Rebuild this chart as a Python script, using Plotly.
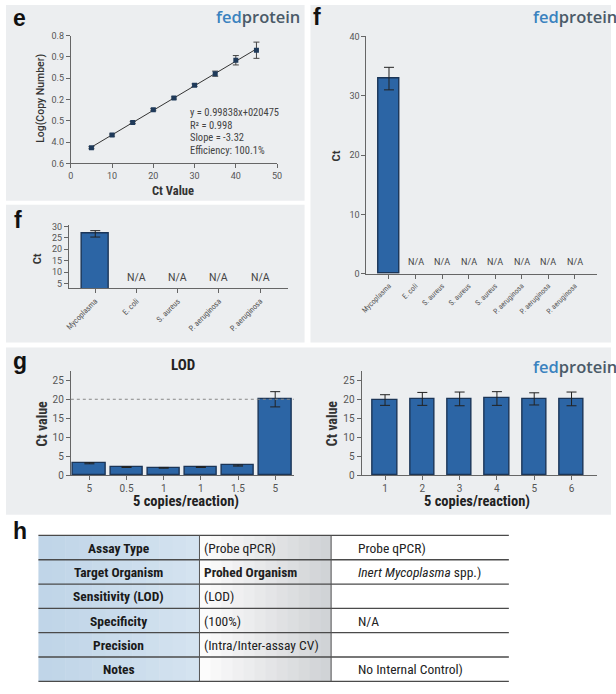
import numpy as np
import plotly.graph_objects as go

W, H = 616, 694

# e: standard curve
ct_values = [5, 10, 15, 20, 25, 30, 35, 40, 45]
log_copies = [0.74, 1.33, 1.92, 2.52, 3.07, 3.67, 4.21, 4.84, 5.31]
log_err = [0.05, 0.05, 0.05, 0.05, 0.05, 0.06, 0.12, 0.22, 0.38]
e_ytick_text = ["0.6", "4.0", "0.5", "0.2", "0.5", "0.9", "0.8"]
e_fit_text = ["y = 0.99838x+020475", "R\u00b2 = 0.998", "Slope = -3.32", "Efficiency: 100.1%"]

# f (small): specificity
spec_small_labels = ["Mycoplasma", "E. coli", "S. aureus", "P. aeruginosa", "P. aeruginosa"]
spec_small_ct = [26.8, None, None, None, None]
spec_small_err = [1.4, None, None, None, None]

# f (large): specificity
spec_labels = ["Mycoplasma", "E. coli", "S. aureus", "S. aureus", "S. aureus",
               "P. aeruginosa", "P. aeruginosa", "P. aeruginosa"]
spec_ct = [32.9, None, None, None, None, None, None, None]
spec_err = [1.9, None, None, None, None, None, None, None]

# g: LOD and repeatability
lod_labels = ["5", "0.5", "1", "1", "1.5", "5"]
lod_ct = [3.2, 2.2, 2.0, 2.2, 2.6, 20.0]
lod_err = [0.15, 0.12, 0.1, 0.12, 0.15, 2.0]
lod_threshold = 20
rep_labels = ["1", "2", "3", "4", "5", "6"]
rep_ct = [19.8, 20.1, 20.1, 20.2, 20.1, 20.1]
rep_err = [1.4, 1.7, 1.8, 1.8, 1.6, 1.8]

# h: summary table
table_params = ["Assay Type", "Target Organism", "Sensitivity (LOD)", "Specificity", "Precision", "Notes"]
table_col2 = ["(Probe qPCR)", "<b>Prohed Organism</b>", "(LOD)", "(100%)", "(Intra/Inter-assay CV)", ""]
table_col3 = ["Probe qPCR)", "<i>Inert Mycoplasma</i> spp.)", "", "N/A", "", "No Internal Control)"]

BAR = "#2c65a5"
BAR_LINE = "#1b3557"
PANEL = "#eceef0"
TXT = "#333333"
BASE_FONT = "Roboto, Liberation Sans, sans-serif"
COND_FONT = "Roboto Condensed, Liberation Sans Narrow, DejaVu Sans Condensed, Roboto, sans-serif"


def fx(px):
    return px / W


def fy(py):
    return 1 - py / H


fig = go.Figure()

# e scatter + fit line
slope, icpt = np.polyfit(ct_values, log_copies, 1)
fit_x = [min(ct_values), max(ct_values)]
fig.add_trace(go.Scatter(x=fit_x, y=[slope * v + icpt for v in fit_x], mode="lines",
                         line=dict(color="#333", width=1), xaxis="x", yaxis="y"))
fig.add_trace(go.Scatter(x=ct_values, y=log_copies, mode="markers",
                         marker=dict(symbol="square", size=5, color="#1f3a5a"),
                         error_y=dict(type="data", array=log_err, color="#444", thickness=1, width=3),
                         xaxis="x", yaxis="y"))


def bars(labels, vals, errs, width, xa, ya):
    fig.add_trace(go.Bar(x=list(range(len(labels))), y=vals, width=width,
                         marker=dict(color=BAR, line=dict(color=BAR_LINE, width=1.4)),
                         error_y=dict(type="data", array=errs, color="#222", thickness=1, width=5),
                         xaxis=xa, yaxis=ya))


bars(spec_small_labels, spec_small_ct, spec_small_err, 0.64, "x2", "y2")
bars(spec_labels, spec_ct, spec_err, 0.81, "x3", "y3")
bars(lod_labels, lod_ct, lod_err, 0.87, "x4", "y4")
bars(rep_labels, rep_ct, rep_err, 0.65, "x5", "y5")

ax = dict(showline=True, linecolor="#666", linewidth=1, ticks="outside", ticklen=4,
          tickcolor="#666", showgrid=False, zeroline=False,
          tickfont=dict(size=9, color="#555", family=BASE_FONT))

layout = dict(
    width=W, height=H, margin=dict(l=0, r=0, t=0, b=0),
    paper_bgcolor="white", plot_bgcolor="rgba(0,0,0,0)", showlegend=False,
    bargap=0,
    xaxis=dict(ax, domain=[fx(66), fx(276)], range=[0, 50], tickvals=list(range(0, 51, 10)), anchor="y"),
    yaxis=dict(ax, domain=[fy(161), fy(31)], range=[0, 6], tickvals=list(range(7)),
               ticktext=e_ytick_text, anchor="x"),
    xaxis2=dict(ax, domain=[fx(64), fx(287)], range=[-0.64, 4.67],
                tickvals=list(range(len(spec_small_labels))), ticktext=spec_small_labels,
                tickangle=-45, anchor="y2", tickfont=dict(size=8, color="#555", family=COND_FONT)),
    yaxis2=dict(ax, domain=[fy(288), fy(224)], range=[2.8, 30.5], tickvals=list(range(5, 31, 5)),
                anchor="x2"),
    xaxis3=dict(ax, domain=[fx(367), fx(602)], range=[-0.85, 7.85],
                tickvals=list(range(len(spec_labels))), ticktext=spec_labels,
                tickangle=-45, anchor="y3", tickfont=dict(size=7.5, color="#555", family=COND_FONT)),
    yaxis3=dict(ax, domain=[fy(273), fy(32)], range=[0, 40], tickvals=list(range(0, 41, 10)),
                anchor="x3"),
    xaxis4=dict(ax, domain=[fx(66), fx(293)], range=[-0.5, 5.5],
                tickvals=list(range(len(lod_labels))), ticktext=lod_labels, anchor="y4",
                tickfont=dict(size=10, color="#555", family=BASE_FONT)),
    yaxis4=dict(ax, domain=[fy(478), fy(372)], range=[0, 27.4], tickvals=list(range(0, 26, 5)),
                anchor="x4", tickfont=dict(size=10, color="#555", family=BASE_FONT)),
    xaxis5=dict(ax, domain=[fx(362), fx(602)], range=[-0.63, 5.69],
                tickvals=list(range(len(rep_labels))), ticktext=rep_labels, anchor="y5",
                tickfont=dict(size=10, color="#555", family=BASE_FONT)),
    yaxis5=dict(ax, domain=[fy(478), fy(372)], range=[0, 27.4], tickvals=list(range(0, 26, 5)),
                anchor="x5", tickfont=dict(size=10, color="#555", family=BASE_FONT)),
)
fig.update_layout(**layout)

shapes = []
# gray panels
for x0, y0, x1, y1 in [(0, 0, 304, 199), (0, 203, 304, 343), (310, 0, 616, 343), (0, 348, 616, 518)]:
    shapes.append(dict(type="rect", xref="paper", yref="paper", x0=fx(x0), x1=fx(x1),
                       y0=fy(y1), y1=fy(y0), fillcolor=PANEL, line=dict(width=0), layer="below"))

# LOD threshold
shapes.append(dict(type="line", xref="x4 domain", yref="y4", x0=0, x1=1, y0=lod_threshold,
                   y1=lod_threshold, line=dict(color="#888", width=1, dash="dot")))

# table
col_x = [33, 197, 331, 512]
row_h = 24.7
top = 539
n_rows = len(table_params)
strips = 12
for c, (ca, cb) in enumerate([((192, 213, 232), (212, 227, 240)), ((252, 252, 252), (208, 211, 214))]):
    xa, xb = col_x[c], col_x[c + 1]
    for s in range(strips):
        t = s / (strips - 1)
        col = "rgb(%d,%d,%d)" % tuple(int(ca[k] + (cb[k] - ca[k]) * t) for k in range(3))
        shapes.append(dict(type="rect", xref="paper", yref="paper",
                           x0=fx(xa + (xb - xa) * s / strips), x1=fx(xa + (xb - xa) * (s + 1) / strips + 0.5),
                           y0=fy(top + n_rows * row_h), y1=fy(top), fillcolor=col,
                           line=dict(width=0), layer="below"))
for r in range(n_rows + 1):
    yy = top + r * row_h
    shapes.append(dict(type="line", xref="paper", yref="paper", x0=fx(col_x[0]), x1=fx(col_x[-1]),
                       y0=fy(yy), y1=fy(yy), line=dict(color="#4a4a4a", width=1.3)))
for xx in col_x[1:3]:
    shapes.append(dict(type="line", xref="paper", yref="paper", x0=fx(xx), x1=fx(xx),
                       y0=fy(top + n_rows * row_h), y1=fy(top), line=dict(color="#555", width=1)))

ann = []


def text(x, y, s, size=10, color=TXT, xanchor="center", family=BASE_FONT, angle=0, weight=None):
    f = dict(size=size, color=color, family=family)
    if weight:
        f["weight"] = weight
    ann.append(dict(x=fx(x), y=fy(y), xref="paper", yref="paper", text=s, showarrow=False,
                    xanchor=xanchor, yanchor="middle", font=f, textangle=angle))


LOGO = "<span style='color:#3a82bf'>fed</span><span style='color:#4a5a68'>protein</span>"
for lx, ly in [(212, 12), (535, 12), (535, 367)]:
    text(lx, ly, LOGO, size=16.5, xanchor="left", family="Open Sans, sans-serif", weight=600)

for s, lx, ly in [("e", 5, 13), ("f", 6, 218), ("f", 311, 12), ("g", 5, 362), ("h", 5, 534)]:
    text(lx, ly, "<b>" + s + "</b>", size=23, color="#111", xanchor="left", family="Liberation Sans, Arial")

# e labels
text(35, 95, "Log(Copy Number)", size=10.5, angle=-90, weight=500)
text(170, 188, "<b>Ct Value</b>", size=12.5, family=COND_FONT)
for i, s in enumerate(e_fit_text):
    text(185, 109 + i * 13, s, size=10.5, color="#444", xanchor="left", family=COND_FONT)

# f labels
text(32, 258, "<b>Ct</b>", size=11, angle=-90)
text(337, 153, "<b>Ct</b>", size=11, angle=-90)
for i, v in enumerate(spec_small_ct):
    if v is None:
        ann.append(dict(x=i, y=7.6, xref="x2", yref="y2", text="N/A", showarrow=False,
                        font=dict(size=10.5, color="#444", family=BASE_FONT)))
for i, v in enumerate(spec_ct):
    if v is None:
        ann.append(dict(x=i, y=1.9, xref="x3", yref="y3", text="N/A", showarrow=False,
                        font=dict(size=9, color="#444", family=BASE_FONT)))

# g labels
text(180, 366, "<b>LOD</b>", size=15, color="#222", family=COND_FONT)
text(37, 425, "<b>Ct value</b>", size=14, angle=-90, family=COND_FONT)
text(332, 425, "<b>Ct value</b>", size=14, angle=-90, family=COND_FONT)
text(183, 504, "<b>5 copies/reaction)</b>", size=14.5, color="#222", family=COND_FONT)
text(480, 504, "<b>5 copies/reaction)</b>", size=14.5, color="#222", family=COND_FONT)

# table text
for r in range(n_rows):
    cy = top + (r + 0.5) * row_h
    text((col_x[0] + col_x[1]) / 2, cy, "<b>" + table_params[r] + "</b>", size=13.5, color="#1a1a1a",
         family=COND_FONT)
    text(200, cy, table_col2[r], size=13.5, color="#222", xanchor="left", family=COND_FONT)
    text(356, cy, table_col3[r], size=13.5, color="#222", xanchor="left", family=COND_FONT)

fig.update_layout(shapes=shapes, annotations=ann)
fig.write_html("out.html", config={"displayModeBar": False},
               post_script="document.body.style.margin='0';document.body.style.overflow='hidden';")
